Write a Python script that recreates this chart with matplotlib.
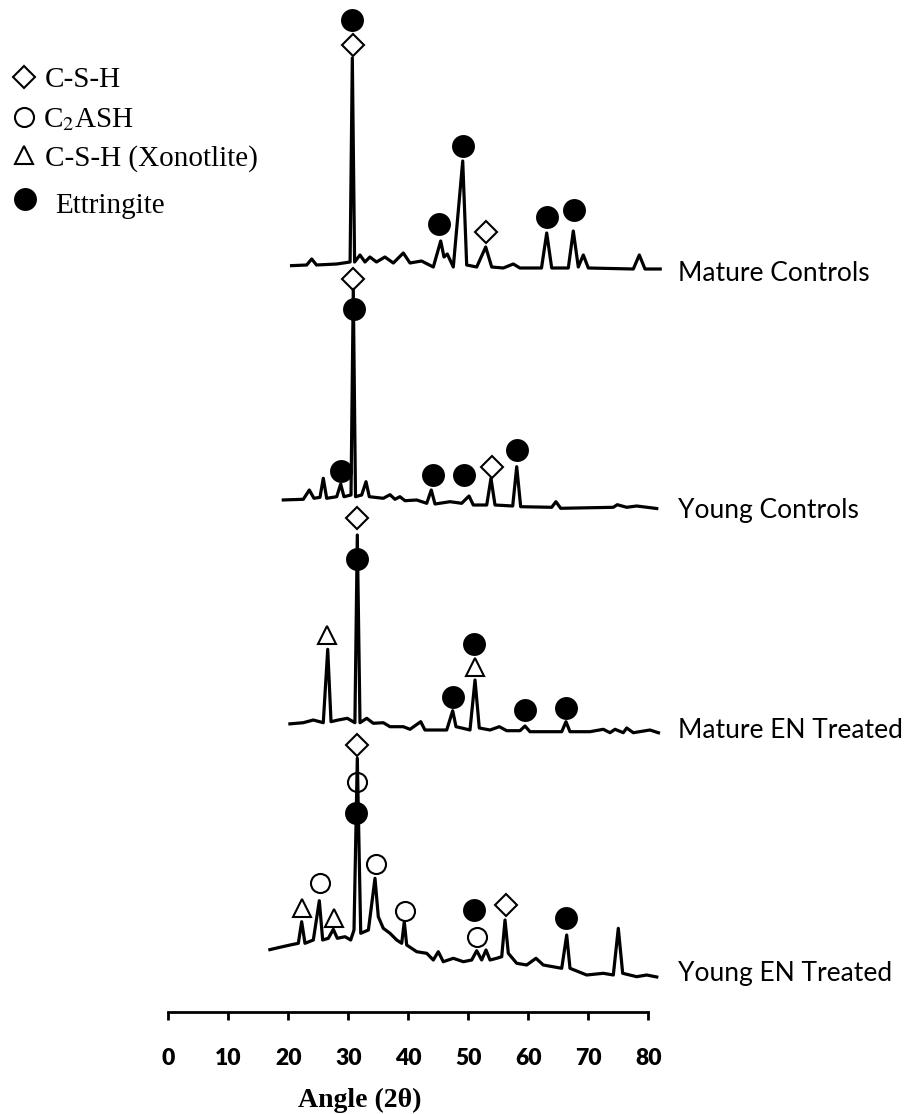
import matplotlib

matplotlib.use("Agg")
import matplotlib.pyplot as plt

plt.rcParams["mathtext.fontset"] = "stix"

# sample names, top to bottom
samples = ["Mature Controls", "Young Controls", "Mature EN Treated", "Young EN Treated"]

# Mature Controls pattern (2theta, counts above its own baseline)
mc_angle = [20.28, 23.06, 23.9, 24.7, 28.07, 30.3, 30.67, 31.05, 31.95, 32.78,
            33.6, 34.7, 36.1, 37.5, 39.17, 40.28, 42.2, 44.17, 45.4, 45.95,
            46.5, 47.5, 49.07, 49.73, 51.4, 52.9, 53.9, 55.83, 57.5, 58.6,
            62.2, 63.07, 63.9, 66.67, 67.5, 68.33, 69.17, 70.0, 77.5, 78.5,
            79.45, 82.25]
mc_counts = [2.3, 3, 9, 3, 4, 6, 210, 6, 13, 6,
             11, 6, 11, 5, 15, 5, 7, 1, 27, 11,
             14, 1, 107, 3, 1, 21, 1, 0, 4, 0,
             0, 35, 0, 0, 37, 1, 13, 0, -1, 13,
             -1, -1]

# Young Controls pattern
yc_angle = [18.9, 22.5, 23.5, 24.28, 25.28, 25.83, 26.4, 28.07, 28.73, 29.28,
            30.45, 30.83, 31.2, 32.23, 32.95, 33.5, 35.83, 36.95, 37.78, 38.6,
            39.45, 41.4, 43.07, 43.83, 44.45, 46.95, 48.9, 50.12, 50.83, 53.07,
            53.78, 54.45, 57.4, 58.07, 58.73, 63.9, 64.6, 65.4, 74.17, 74.83,
            76.4, 78.07, 81.67]
yc_counts = [5, 5.7, 15, 6.7, 7.7, 26.7, 6.7, 8.3, 21, 8.3,
             10, 215.7, 8.3, 10, 23.3, 8.3, 6.7, 10.3, 5.7, 8.3,
             4.3, 5, 1.7, 15, 1, 3.3, 1.7, 9, 0, 0,
             26.7, 0, -1, 38.3, -1.7, -2.3, 3.3, -3.3, -2.3, 0.3,
             -2.3, -1, -3.7]

# Mature EN Treated pattern
men_angle = [20.0, 22.5, 24.17, 25.83, 26.57, 27.12, 28.33, 29.83, 31.1, 31.5,
             31.95, 33.07, 34.17, 35.83, 36.95, 39.17, 40.28, 42.07, 42.78, 46.4,
             47.4, 47.95, 48.9, 50.28, 51.12, 51.83, 53.62, 55.17, 56.4, 58.62,
             59.45, 60.28, 65.57, 66.28, 66.95, 70.28, 72.5, 73.62, 74.45, 75.83,
             76.4, 77.5, 80.28, 81.95]
men_counts = [4, 5.3, 8, 5.3, 78.7, 6.3, 8, 9.7, 5.3, 193,
              5.3, 9.7, 4.7, 5.3, 1.3, 1.3, -1.3, 6.3, -2, -2,
              17.3, 1.3, 0, -2, 48, 0, -2, 1.3, -2.7, -2.7,
              2, -3.7, -3.7, 6.3, -3.7, -3.7, -1.3, -4.7, -1.3, -4.7,
              0, -4.7, -2, -5.3]

# Young EN Treated pattern
yen_angle = [16.67, 18.6, 20.3, 21.67, 22.23, 22.78, 24.17, 25.17, 25.73, 26.67,
             27.5, 28.17, 29.45, 30.4, 30.95, 31.5, 32.07, 33.35, 34.45, 35.0,
             35.83, 36.95, 38.07, 38.9, 39.33, 39.73, 41.4, 43.07, 44.17, 45.0,
             45.83, 47.5, 49.17, 50.57, 51.4, 52.23, 52.95, 53.62, 54.73, 55.57,
             56.12, 56.67, 58.07, 59.73, 61.28, 62.5, 65.57, 66.4, 66.95, 69.73,
             72.5, 74.17, 75.0, 75.73, 78.07, 79.73, 81.67]
yen_counts = [15, 17.7, 20, 21.7, 43.3, 21.7, 25, 64.3, 25, 26.7,
              35.7, 26.7, 28.3, 25, 35, 206.7, 31.7, 35, 86.7, 48.3,
              36.7, 31.7, 25, 21.7, 43.3, 20, 13.3, 11.7, 5, 13.3,
              3.3, 6.7, 3.3, 5, 14.3, 5, 15, 5, 6.7, 8.3,
              45, 11.7, 1.7, 0, 6.7, 0, -3.3, 30, -3.3, -10,
              -8.3, -10, 36.7, -8.3, -11.7, -10, -12.3]

# phase identification marks (phase, 2theta, height above baseline)
mc_mark_phase = ["Ettringite", "C-S-H", "Ettringite", "Ettringite", "C-S-H",
                 "Ettringite", "Ettringite"]
mc_mark_angle = [30.57, 30.73, 49.07, 45.17, 52.97, 63.17, 67.62]
mc_mark_height = [248, 223, 122.3, 44, 36, 51.3, 58]

yc_mark_phase = ["C-S-H", "Ettringite", "Ettringite", "Ettringite", "Ettringite",
                 "C-S-H", "Ettringite"]
yc_mark_angle = [30.83, 30.95, 28.73, 44.07, 49.33, 53.98, 58.17]
yc_mark_height = [226.5, 195.7, 34, 30, 30, 38.3, 55]

men_mark_phase = ["C-S-H", "Ettringite", "Xonotlite", "Ettringite", "Xonotlite",
                  "Ettringite", "Ettringite", "Ettringite"]
men_mark_angle = [31.38, 31.5, 26.5, 50.95, 51.12, 47.4, 59.5, 66.28]
men_mark_height = [210, 168.7, 93, 83.7, 61.3, 30.7, 18, 19.7]

yen_mark_phase = ["C-S-H", "C2ASH", "Ettringite", "C2ASH", "C2ASH", "Xonotlite",
                  "Xonotlite", "C2ASH", "Ettringite", "C2ASH", "C-S-H", "Ettringite"]
yen_mark_angle = [31.5, 31.5, 31.28, 34.6, 25.28, 22.33, 27.67, 39.45, 50.95,
                  51.4, 56.23, 66.28]
yen_mark_height = [220, 183.3, 152.3, 101, 81.7, 56.7, 46.7, 54, 55, 27.7, 60, 46.7]

phases = ["C-S-H", "C2ASH", "Xonotlite", "Ettringite"]
phase_labels = ["C-S-H", "C$_2$ASH", "C-S-H (Xonotlite)", "Ettringite"]
tick_values = [0, 10, 20, 30, 40, 50, 60, 70, 80]
tick_labels = ["0", "10", "20", "30", "40", "50", "60", "70", "80"]

# vertical stacking offset of each pattern
offsets = [743.7, 506.7, 283.7, 46.7]
label_dy = [-12.7, -13.3, -10.3, -15.7]

PHASE_STYLE = {
    "C-S-H": dict(marker="D", markersize=11, markerfacecolor="none"),
    "C2ASH": dict(marker="o", markersize=13.7, markerfacecolor="none"),
    "Xonotlite": dict(marker="^", markersize=12.5, markerfacecolor="none"),
    "Ettringite": dict(marker="o", markersize=15, markerfacecolor="black"),
}

patterns = [
    (mc_angle, mc_counts, mc_mark_phase, mc_mark_angle, mc_mark_height),
    (yc_angle, yc_counts, yc_mark_phase, yc_mark_angle, yc_mark_height),
    (men_angle, men_counts, men_mark_phase, men_mark_angle, men_mark_height),
    (yen_angle, yen_counts, yen_mark_phase, yen_mark_angle, yen_mark_height),
]

W, H = 909, 1114
fig = plt.figure(figsize=(W / 100, H / 100), dpi=100)
bottom = 1 - 1011.7 / H
ax = fig.add_axes([0, bottom, 1, 1 - bottom])

for name, off, dy, (angle, counts, m_phase, m_angle, m_height) in zip(
    samples, offsets, label_dy, patterns
):
    ax.plot(angle, [c + off for c in counts], color="black", lw=2.3,
            solid_joinstyle="round", solid_capstyle="butt", zorder=2)
    for ph, a, h in zip(m_phase, m_angle, m_height):
        ax.plot([a], [h + off], color="black", linestyle="none",
                markeredgewidth=1.5, zorder=3, **PHASE_STYLE[ph])
    ax.text(84.95, off + dy, name, ha="left", va="baseline",
            fontsize=19, family=["Lato", "DejaVu Sans"])

ax.set_xlim(-28.05, 123.45)
ax.set_ylim(0, 1011.7)
for side in ("left", "right", "top"):
    ax.spines[side].set_visible(False)
ax.spines["bottom"].set_bounds(0, 80)
ax.spines["bottom"].set_linewidth(2)
ax.set_yticks([])
ax.set_xticks(tick_values)
ax.set_xticklabels(tick_labels, fontsize=16.5, fontweight="heavy",
                   family=["Lato", "DejaVu Sans"])
ax.tick_params(axis="x", direction="out", length=6, width=2, pad=20)
ax.patch.set_visible(False)

fig.text(360 / W, 1 - 1106.7 / H, "Angle (2θ)", ha="center", va="baseline",
         fontsize=20, fontweight="bold", family=["Liberation Serif", "DejaVu Serif"])

# legend at the top left
key_x = [24, 24, 24, 25]
key_y = [77, 117, 155, 199]
text_x = [45, 43, 45, 55]
text_y = [87.3, 126.7, 165.7, 213.3]
for ph, lab, kx, ky, tx, ty in zip(phases, phase_labels, key_x, key_y, text_x, text_y):
    style = dict(PHASE_STYLE[ph])
    if style["markerfacecolor"] == "none":
        style["markerfacecolor"] = "white"
    ax.plot([kx / W], [1 - ky / H], transform=fig.transFigure, clip_on=False,
            color="black", linestyle="none", markeredgewidth=1.5, **style)
    fig.text(tx / W, 1 - ty / H, lab, ha="left", va="baseline", fontsize=21,
             family=["Liberation Serif", "DejaVu Serif"])

fig.savefig("out.png", dpi=100)
